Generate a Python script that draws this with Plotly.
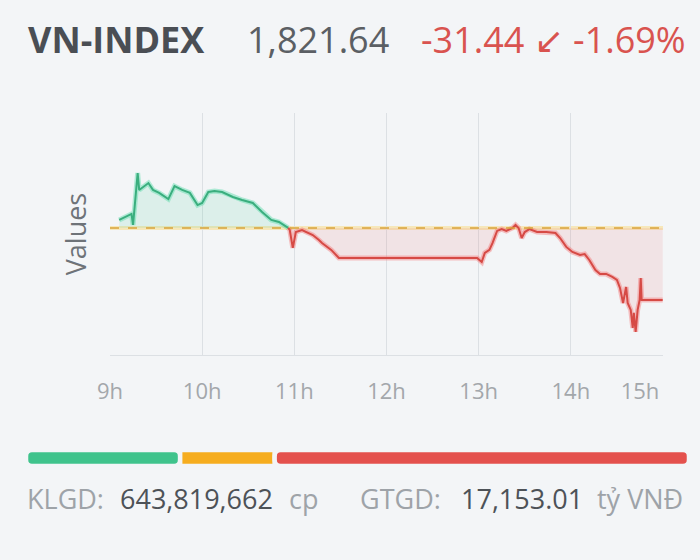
import plotly.graph_objects as go

# ---------------- data ----------------
ref_value = 1853.08
last_value = 1821.64
change = -31.44
change_pct = -1.69
volume_text = "643,819,662"
value_text = "17,153.01"

day = "2025-01-02 "
times = ["09:06:00", "09:14:00", "09:15:00", "09:18:00", "09:19:00", "09:21:00", "09:25:00",
         "09:28:00", "09:32:00", "09:38:00", "09:42:00", "09:47:00", "09:52:00", "09:57:00",
         "10:00:00", "10:04:00", "10:08:00", "10:13:00", "10:20:00", "10:26:00", "10:33:00",
         "10:39:00", "10:45:00", "10:50:00", "10:54:00", "10:56:00",
         "10:57:00", "10:59:00", "11:01:00", "11:05:00", "11:08:00", "11:12:00", "11:16:00",
         "11:18:00", "11:24:00", "11:29:00", "12:59:00", "13:02:00", "13:04:00", "13:07:00",
         "13:09:00", "13:12:00", "13:15:00", "13:18:00", "13:22:00", "13:24:00", "13:26:00",
         "13:28:00", "13:30:00", "13:33:00", "13:38:00", "13:44:00", "13:50:00", "13:53:00",
         "13:57:00", "14:01:00", "14:06:00", "14:09:00", "14:12:00", "14:16:00", "14:19:00",
         "14:23:00", "14:27:00", "14:30:00", "14:32:00", "14:34:00", "14:36:00", "14:37:00",
         "14:39:00", "14:40:18", "14:41:00", "14:42:12", "14:43:30", "14:44:48", "14:45:30",
         "14:46:06", "14:59:48"]
values = [1856.6, 1859.2, 1854.4, 1877.1, 1869.7, 1870.6, 1872.7,
          1869.7, 1868.4, 1865.7, 1871.4, 1869.7, 1868.4, 1863.1,
          1864.0, 1868.8, 1869.2, 1868.8, 1866.6, 1865.3, 1864.0,
          1860.1, 1856.6, 1855.7, 1854.0, 1853.1,
          1852.2, 1844.4, 1851.3, 1852.2, 1851.3, 1850.0, 1847.8,
          1846.5, 1843.5, 1840.0, 1840.0, 1838.2, 1842.2, 1843.5,
          1846.5, 1851.8, 1852.6, 1851.8, 1853.1, 1854.4, 1853.1,
          1848.7, 1851.3, 1852.6, 1851.3, 1851.3, 1850.9, 1848.7,
          1844.8, 1842.6, 1841.3, 1841.7, 1839.1, 1834.7, 1833.0,
          1833.0, 1831.7, 1830.4, 1826.9, 1820.3, 1827.3, 1820.3,
          1817.3, 1809.4, 1816.0, 1807.7, 1817.3, 1821.64, 1831.2,
          1821.64, 1821.64]
cross_index = 25  # where the index crosses the reference level

grid_ticks = ["09:00", "10:00", "11:00", "12:00", "13:00", "14:00", "15:00"]
label_ticks = ["09:00", "10:00", "11:00", "12:00", "13:00", "14:00", "14:45"]
tick_labels = ["9h", "10h", "11h", "12h", "13h", "14h", "15h"]

breadth_names = ["Tăng", "Đứng giá", "Giảm"]
breadth_counts = [93, 57, 250]
breadth_colors = ["#3fc38c", "#f6ad1f", "#e4514d"]

# ---------------- styles ----------------
BG = "#f3f5f7"
GREEN = "#3aae7e"
RED = "#d64a45"
FONT = "Open Sans"

xs = [day + t for t in times]
g_x, g_y = xs[:cross_index + 1], values[:cross_index + 1]
r_x, r_y = xs[cross_index:], values[cross_index:]

fig = go.Figure()

# green area
fig.add_trace(go.Scatter(x=g_x, y=[ref_value] * len(g_x), mode="lines",
                         line=dict(width=0), hoverinfo="skip", showlegend=False))
fig.add_trace(go.Scatter(x=g_x, y=g_y, mode="lines", fill="tonexty",
                         fillcolor="rgba(70,200,150,0.13)",
                         line=dict(color="rgba(90,220,170,0.45)", width=5),
                         showlegend=False))
# red area
fig.add_trace(go.Scatter(x=r_x, y=[ref_value] * len(r_x), mode="lines",
                         line=dict(width=0), hoverinfo="skip", showlegend=False))
fig.add_trace(go.Scatter(x=r_x, y=r_y, mode="lines", fill="tonexty",
                         fillcolor="rgba(235,110,110,0.13)",
                         line=dict(color="rgba(245,120,120,0.45)", width=5),
                         showlegend=False))
# crisp lines
fig.add_trace(go.Scatter(x=g_x, y=g_y, mode="lines", line=dict(color=GREEN, width=2),
                         showlegend=False))
fig.add_trace(go.Scatter(x=r_x, y=r_y, mode="lines", line=dict(color=RED, width=2),
                         showlegend=False))

# reference dashed line
fig.add_shape(type="line", xref="x domain", yref="y", x0=0, x1=1, y0=ref_value, y1=ref_value,
              line=dict(color="rgba(250,215,110,0.45)", width=4), layer="below")
fig.add_shape(type="line", xref="x domain", yref="y", x0=0, x1=1, y0=ref_value, y1=ref_value,
              line=dict(color="#d9a43a", width=1.6, dash="dash"))

# breadth bar (first segment drawn leftwards so its outer end gets rounded)
total = sum(breadth_counts)
start = 0
for i, (name, cnt, col) in enumerate(zip(breadth_names, breadth_counts, breadth_colors)):
    if i == 0:
        bx, bbase, rad = -cnt, start + cnt, 6
    elif i == len(breadth_counts) - 1:
        bx, bbase, rad = cnt, start, 6
    else:
        bx, bbase, rad = cnt, start, 2
    fig.add_trace(go.Bar(x=[bx], y=[0], base=[bbase], orientation="h", name=name,
                         marker=dict(color=col, line=dict(color=BG, width=4.5), cornerradius=rad),
                         xaxis="x3", yaxis="y3", showlegend=False, width=1))
    start += cnt

xdom = [110 / 700, 663 / 700]
fig.update_layout(
    width=700, height=560,
    margin=dict(l=0, r=0, t=0, b=0, autoexpand=False),
    paper_bgcolor=BG, plot_bgcolor=BG,
    font=dict(family=FONT),
    showlegend=False,
    barmode="overlay",
    xaxis=dict(domain=xdom, type="date", automargin=False,
               range=[day + "09:00", day + "15:00"],
               tickvals=[day + t for t in grid_ticks], showticklabels=False,
               showgrid=True, gridcolor="#dce0e4", gridwidth=1.3,
               zeroline=False, showline=True, linecolor="#dce0e4", linewidth=1.3,
               fixedrange=True),
    xaxis2=dict(domain=xdom, type="date", overlaying="x", matches="x", anchor="y",
                side="bottom", automargin=False,
                tickvals=[day + t for t in label_ticks], ticktext=tick_labels,
                showgrid=False, zeroline=False, showline=False,
                ticks="outside", ticklen=17, tickcolor="rgba(0,0,0,0)",
                tickfont=dict(size=22, color="#a3a7ab", family=FONT)),
    yaxis=dict(domain=[1 - 355 / 560, 1 - 113 / 560], range=[1797.6, 1903.3],
               automargin=False,
               showticklabels=False, showgrid=False, zeroline=False, showline=False,
               title=dict(text="Values", font=dict(size=27, color="#6e7378", family=FONT),
                          standoff=14)),
    xaxis3=dict(domain=[26 / 700, 689 / 700], range=[0, total],
                visible=False, anchor="y3", automargin=False),
    yaxis3=dict(domain=[1 - 466 / 560, 1 - 450 / 560], range=[-0.5, 0.5],
                visible=False, anchor="x3", automargin=False),
)
# dummy trace to activate xaxis2
fig.add_trace(go.Scatter(x=[xs[0]], y=[ref_value], xaxis="x2", yaxis="y", mode="markers",
                         marker=dict(opacity=0), hoverinfo="skip", showlegend=False))

arrow = "\u2199"
header = [
    (26, "<b>VN-INDEX</b>", 36, "#4a4e54"),
    (245, f"{last_value:,.2f}", 36, "#5b5f64"),
    (419, f"{change:.2f} {arrow} {change_pct:.2f}%", 36, "#d9534f"),
]
for x, txt, size, col in header:
    fig.add_annotation(x=x / 700, y=1 - 40 / 560, xref="paper", yref="paper",
                       xanchor="left", yanchor="middle", showarrow=False, text=txt,
                       font=dict(size=size, color=col, family=FONT))

footer = [
    (25, "KLGD:", "#9ea3a8"),
    (118, volume_text, "#4d5257"),
    (287, "cp", "#9ea3a8"),
    (358, "GTGD:", "#9ea3a8"),
    (459, value_text, "#4d5257"),
    (595, "tỷ VNĐ", "#9ea3a8"),
]
for x, txt, col in footer:
    fig.add_annotation(x=x / 700, y=1 - 498 / 560, xref="paper", yref="paper",
                       xanchor="left", yanchor="middle", showarrow=False, text=txt,
                       font=dict(size=27, color=col, family=FONT))

fig.write_html("out.html", config={"displayModeBar": False},
               post_script="document.body.style.margin='0';"
                           "document.body.style.background='" + BG + "';")
